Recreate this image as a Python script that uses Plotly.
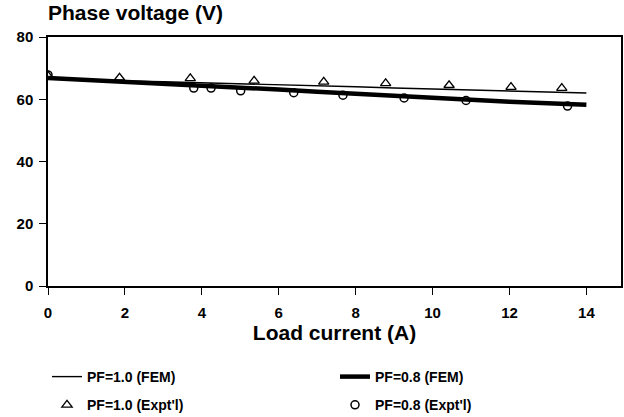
import plotly.graph_objects as go

# FEM curves
fem_x = [0, 1, 2, 3, 4, 5, 6, 7, 8, 9, 10, 11, 12, 13, 14]
fem_pf10 = [66.8, 66.3, 65.9, 65.6, 65.3, 65.0, 64.8, 64.4, 64.0, 63.6, 63.3, 63.0, 62.6, 62.3, 62.0]
fem_pf08 = [66.8, 66.2, 65.8, 65.2, 64.5, 63.9, 63.1, 62.4, 61.7, 61.0, 60.4, 59.8, 59.2, 58.7, 58.2]

# Experimental points
exp10_x = [0, 1.86, 3.70, 5.36, 7.17, 8.78, 10.43, 12.04, 13.36]
exp10_y = [67.5, 66.9, 66.7, 65.9, 65.6, 65.1, 64.5, 63.9, 63.6]
exp08_x = [0, 3.79, 4.24, 5.01, 6.39, 7.67, 9.26, 10.87, 13.51]
exp08_y = [67.8, 63.6, 63.6, 62.7, 62.1, 61.3, 60.4, 59.6, 57.8]

x_ticks = [0, 2, 4, 6, 8, 10, 12, 14]
y_ticks = [0, 20, 40, 60, 80]

FONT = "Liberation Sans"

fig = go.Figure()
fig.add_trace(go.Scatter(x=fem_x, y=fem_pf10, mode="lines", name="<b>PF=1.0 (FEM)</b>",
                         line=dict(color="black", width=1.4), legend="legend", legendgroup="a"))
fig.add_trace(go.Scatter(x=exp10_x, y=exp10_y, mode="markers", name="<b>PF=1.0 (Expt'l)</b>",
                         marker=dict(symbol="triangle-up-open", size=9, color="black", line=dict(width=1.3)),
                         legend="legend", legendgroup="b"))
fig.add_trace(go.Scatter(x=fem_x, y=fem_pf08, mode="lines", name="<b>PF=0.8 (FEM)</b>",
                         line=dict(color="black", width=4.5), legend="legend2", legendgroup="c"))
fig.add_trace(go.Scatter(x=exp08_x, y=exp08_y, mode="markers", name="<b>PF=0.8 (Expt'l)</b>",
                         marker=dict(symbol="circle-open", size=8, color="black", line=dict(width=1.5)),
                         legend="legend2", legendgroup="d"))

axis_common = dict(showline=True, linecolor="black", linewidth=1.5, mirror=True,
                   ticks="outside", tickcolor="black", tickwidth=1.3, showgrid=False, zeroline=False,
                   tickfont=dict(family=FONT, size=15, color="black", weight="bold"))

fig.update_layout(
    width=624, height=417,
    margin=dict(l=48, r=3, t=37, b=131, autoexpand=False),
    paper_bgcolor="white", plot_bgcolor="white",
    font=dict(family=FONT, color="black"),
    title=dict(text="<b>Phase voltage (V)</b>", xref="container", yref="container",
               x=48/624, y=1 - 5/417, xanchor="left", yanchor="top",
               font=dict(family=FONT, size=21, color="black")),
    xaxis=dict(range=[0, 14.9], tickvals=x_ticks, ticklen=7, tickangle=0, ticklabelstandoff=5,
               title=dict(text="<b>Load current (A)</b>", font=dict(family=FONT, size=21, color="black"),
                          standoff=2),
               **axis_common),
    yaxis=dict(range=[0, 80], tickvals=y_ticks, ticklen=7, ticklabelstandoff=3, **axis_common),
    legend=dict(xref="container", yref="container", x=47/624, y=1 - 361/417,
                xanchor="left", yanchor="top", tracegroupgap=7, traceorder="grouped",
                font=dict(family=FONT, size=14, color="black"), bgcolor="rgba(0,0,0,0)"),
    legend2=dict(xref="container", yref="container", x=335/624, y=1 - 361/417,
                 xanchor="left", yanchor="top", tracegroupgap=7, traceorder="grouped",
                 font=dict(family=FONT, size=14, color="black"), bgcolor="rgba(0,0,0,0)"),
)

fig.write_html("out.html")
